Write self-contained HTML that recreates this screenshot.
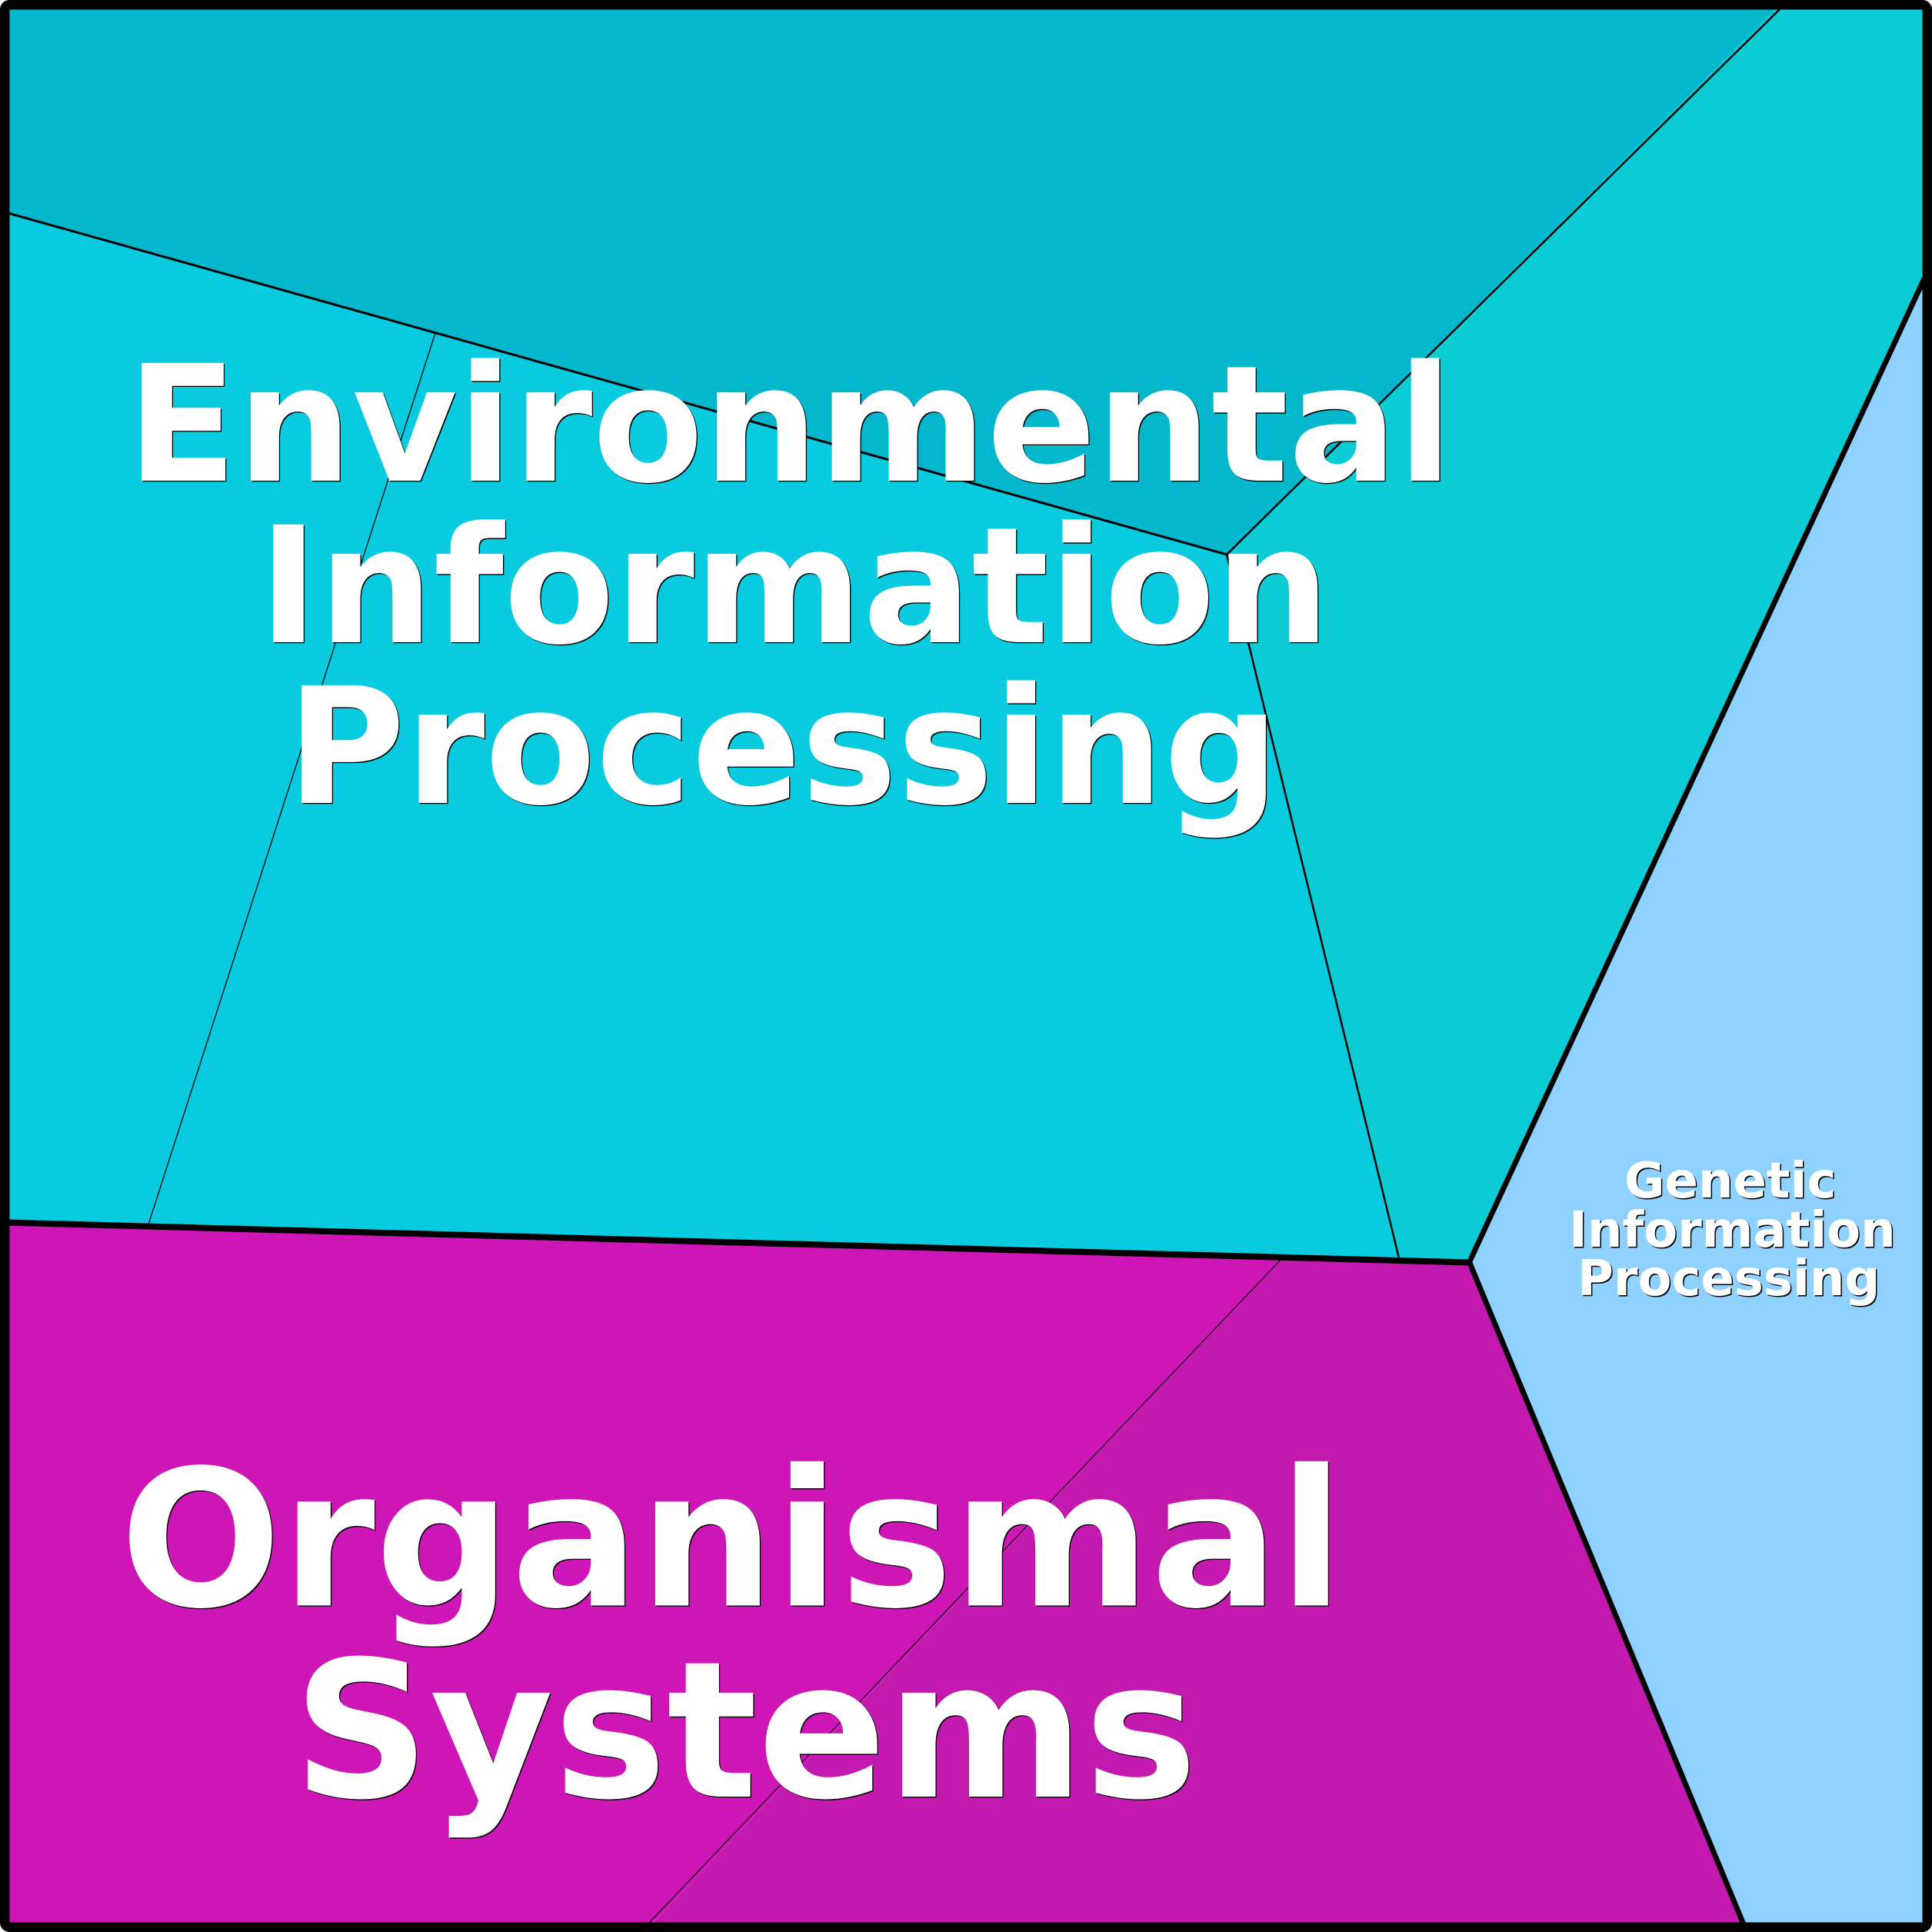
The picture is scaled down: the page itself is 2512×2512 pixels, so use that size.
<!DOCTYPE html>
<html>
<head>
<meta charset="utf-8">
<style>
html,body{margin:0;padding:0;background:#fff;width:2512px;height:2512px;overflow:hidden}
svg{display:block}
text{font-family:"DejaVu Sans","Liberation Sans",sans-serif;font-weight:700}
</style>
</head>
<body>
<svg width="2512" height="2512" viewBox="0 0 2512 2512" xmlns="http://www.w3.org/2000/svg">
<rect x="0" y="0" width="2512" height="2512" fill="#fff"/>
<polygon points="6,6 2325,6 1595,721 6,276" fill="#02b6cc"/>
<polygon points="2314,6 2506,6 2506,360 1910.5,1641 1819,1636 1595,721" fill="#0bccd5"/>
<polygon points="6,276 1595,721 1819,1636 1910.5,1641 6,1589" fill="#08cbdf"/>
<polygon points="6,1589 1666,1637 844,2506 6,2506" fill="#ce15b6"/>
<polygon points="1666,1637 1910.5,1641 2267,2506 844,2506" fill="#c319ae"/>
<polygon points="2506,360 1910.5,1641 2267,2506 2506,2506" fill="#8ed1ff"/>

<g fill="none" stroke="#000">
<line x1="12" y1="277.5" x2="1595" y2="721" stroke-width="3"/>
<line x1="2314" y1="12" x2="1595" y2="721" stroke-width="2.5"/>
<line x1="1595" y1="721" x2="1819" y2="1636" stroke-width="2.5"/>
<line x1="566" y1="433" x2="192" y2="1595" stroke-width="1.3"/>
<line x1="1666" y1="1637" x2="844" y2="2500" stroke-width="1.1"/>
<line x1="8" y1="1589.5" x2="1910.5" y2="1641.5" stroke-width="8"/>
<line x1="1910.5" y1="1641" x2="2502" y2="362" stroke-width="7"/>
<line x1="1910.5" y1="1641" x2="2267" y2="2502" stroke-width="7"/>
<rect x="6.25" y="6.25" width="2499.5" height="2499.5" rx="6" ry="6" stroke-width="12.5"/>
</g>

<g font-size="210" fill="#000" transform="translate(1.3,1.3)">
<text x="165" y="625">Environmental</text>
<text x="336" y="835">Information</text>
<text x="373" y="1044">Processing</text>
</g>
<g font-size="210" fill="#fff">
<text x="165" y="625">Environmental</text>
<text x="336" y="835">Information</text>
<text x="373" y="1044">Processing</text>
</g>

<g font-size="247" fill="#000" transform="translate(1.3,1.3)">
<text x="156" y="2087.5">Organismal</text>
<text x="381" y="2336">Systems</text>
</g>
<g font-size="247" fill="#fff">
<text x="156" y="2087.5">Organismal</text>
<text x="381" y="2336">Systems</text>
</g>

<g font-size="64" fill="#000" transform="translate(1.5,1.5)">
<text x="2112" y="1557">Genetic</text>
<text x="2040" y="1621">Information</text>
<text x="2051" y="1684">Processing</text>
</g>
<g font-size="64" fill="#fff">
<text x="2112" y="1557">Genetic</text>
<text x="2040" y="1621">Information</text>
<text x="2051" y="1684">Processing</text>
</g>
</svg>
</body>
</html>
